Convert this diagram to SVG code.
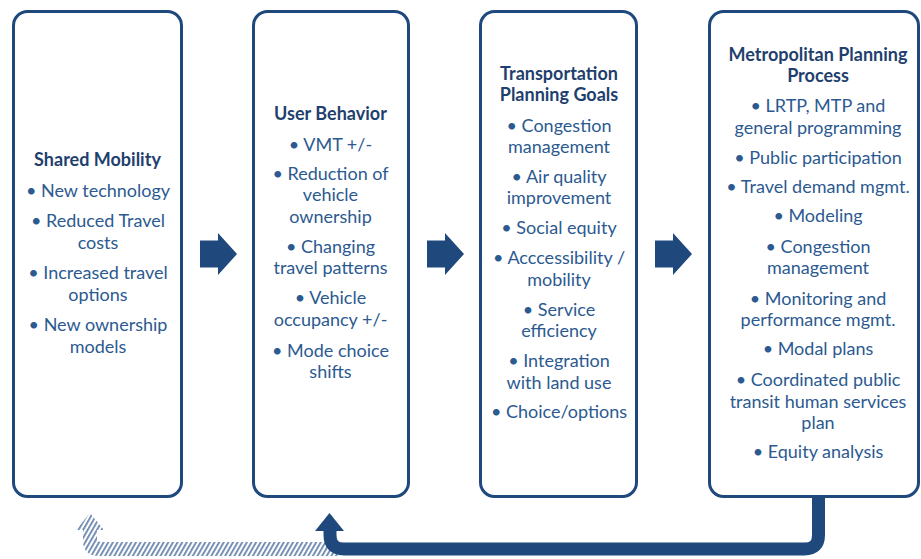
<svg xmlns="http://www.w3.org/2000/svg" width="921" height="559" viewBox="0 0 921 559">
<style>
.box{fill:#fff;stroke:#1f497d;stroke-width:3}
.t{font-family:Lato,"Liberation Sans",sans-serif;font-size:18px;text-anchor:middle;fill:#2c5a90}
.h{font-weight:bold;fill:#1f3f6e}
.arr{fill:#1f497d}
</style>
<defs>
<pattern id="hatch" patternUnits="userSpaceOnUse" width="4" height="4" patternTransform="rotate(30)">
<rect width="4" height="4" fill="#fff"/>
<rect width="1.8" height="4" fill="#6a86ad"/>
</pattern>
</defs>
<rect width="921" height="559" fill="#fff"/>
<g id="connectors">
<path d="M90 513 L104 530 L97 530 L97 538 Q97 542 101 542 L340 542 L340 556 L99 556 Q83 556 83 540 L83 530 L76 530 Z" fill="url(#hatch)"/>
<path d="M818.5 497 V535 Q818.5 549 804.5 549 H344 Q330 549 330 535 V528" fill="none" stroke="#1f497d" stroke-width="13"/>
<polygon class="arr" points="315,531 329.5,513 344,531"/>
<polygon id="a1" class="arr" points="200,240.5 218,240.5 218,233 237,254 218,275 218,267.5 200,267.5"/>
<polygon id="a2" class="arr" points="427,240.5 445,240.5 445,233 464,254 445,275 445,267.5 427,267.5"/>
<polygon id="a3" class="arr" points="655,240.5 673,240.5 673,233 692,254 673,275 673,267.5 655,267.5"/>
</g>
<g id="shared-mobility">
<rect class="box" x="13.5" y="11.5" width="168" height="485" rx="14"/>
<text class="t h" x="97.5" y="166">Shared Mobility</text>
<text class="t" x="98" y="197">• New technology</text>
<text class="t" x="98" y="227">• Reduced Travel</text>
<text class="t" x="98" y="249">costs</text>
<text class="t" x="98" y="279">• Increased travel</text>
<text class="t" x="98" y="301">options</text>
<text class="t" x="98" y="331">• New ownership</text>
<text class="t" x="98" y="353">models</text>
</g>
<g id="user-behavior">
<rect class="box" x="253.5" y="11.5" width="155" height="485" rx="14"/>
<text class="t h" x="330.5" y="120">User Behavior</text>
<text class="t" x="330.5" y="151">• VMT +/-</text>
<text class="t" x="330.5" y="180">• Reduction of</text>
<text class="t" x="330.5" y="201">vehicle</text>
<text class="t" x="330.5" y="223">ownership</text>
<text class="t" x="330.5" y="253">• Changing</text>
<text class="t" x="330.5" y="274">travel patterns</text>
<text class="t" x="330.5" y="304">• Vehicle</text>
<text class="t" x="330.5" y="326">occupancy +/-</text>
<text class="t" x="330.5" y="357">• Mode choice</text>
<text class="t" x="330.5" y="378">shifts</text>
</g>
<g id="transportation-planning-goals">
<rect class="box" x="480.5" y="11.5" width="156" height="485" rx="14"/>
<text class="t h" x="559" y="80">Transportation</text>
<text class="t h" x="559" y="101">Planning Goals</text>
<text class="t" x="559" y="132">• Congestion</text>
<text class="t" x="559" y="153">management</text>
<text class="t" x="559" y="183">• Air quality</text>
<text class="t" x="559" y="204">improvement</text>
<text class="t" x="559" y="234">• Social equity</text>
<text class="t" x="559" y="264">• Acccessibility /</text>
<text class="t" x="559" y="286">mobility</text>
<text class="t" x="559" y="316">• Service</text>
<text class="t" x="559" y="337">efficiency</text>
<text class="t" x="559" y="367">• Integration</text>
<text class="t" x="559" y="389">with land use</text>
<text class="t" x="559" y="418">• Choice/options</text>
</g>
<g id="metropolitan-planning-process">
<rect class="box" x="709.5" y="11.5" width="209" height="485" rx="14"/>
<text class="t h" x="818" y="61">Metropolitan Planning</text>
<text class="t h" x="818" y="82">Process</text>
<text class="t" x="818" y="112">• LRTP, MTP and</text>
<text class="t" x="818" y="134">general programming</text>
<text class="t" x="818" y="164">• Public participation</text>
<text class="t" x="818" y="193">• Travel demand mgmt.</text>
<text class="t" x="818" y="222">• Modeling</text>
<text class="t" x="818" y="253">• Congestion</text>
<text class="t" x="818" y="274">management</text>
<text class="t" x="818" y="305">• Monitoring and</text>
<text class="t" x="818" y="326">performance mgmt.</text>
<text class="t" x="818" y="355">• Modal plans</text>
<text class="t" x="818" y="386">• Coordinated public</text>
<text class="t" x="818" y="408">transit human services</text>
<text class="t" x="818" y="429">plan</text>
<text class="t" x="818" y="458">• Equity analysis</text>
</g>
</svg>
